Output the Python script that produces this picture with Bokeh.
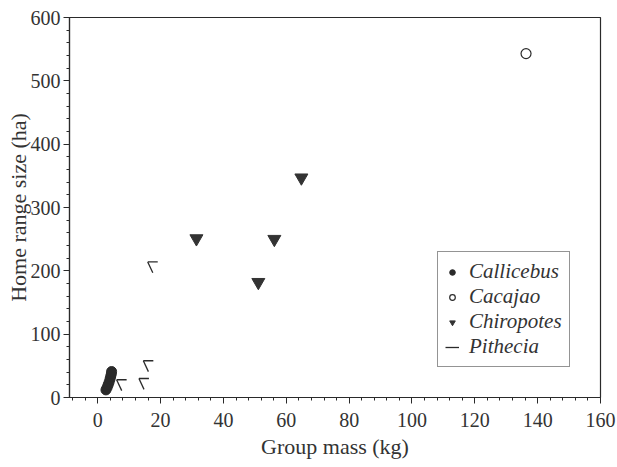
from bokeh.plotting import figure
from bokeh.models import Range1d, SingleIntervalTicker, Legend, LegendItem
from bokeh.embed import file_html
from bokeh.resources import INLINE

callicebus_mass = [2.6, 3.0, 3.3, 3.6, 3.9, 4.1, 4.3, 4.4]
callicebus_range = [12, 16, 20, 24, 29, 33, 37, 41]
cacajao_mass = [136.3]
cacajao_range = [543]
chiropotes_mass = [31.4, 56.2, 51.1, 64.8]
chiropotes_range = [251, 250, 182, 347]
pithecia_mass = [15.9, 14.5, 6.0, 13.1]
pithecia_range = [214, 58, 28, 30]

INK = "#2a2a2a"
TXT = "#333333"
SERIF = "Liberation Serif"

p = figure(width=616, height=466, x_range=Range1d(-9, 160), y_range=Range1d(0, 600),
           output_backend="svg", toolbar_location=None,
           min_border_left=69, min_border_right=16, min_border_top=17, min_border_bottom=69,
           x_axis_label="Group mass (kg)", y_axis_label="Home range size (ha)")
p.xgrid.visible = False
p.ygrid.visible = False
p.outline_line_color = INK
p.outline_line_width = 1.2
p.background_fill_color = "white"
p.border_fill_color = "white"

p.xaxis.ticker = SingleIntervalTicker(interval=20, num_minor_ticks=5)
p.yaxis.ticker = SingleIntervalTicker(interval=100, num_minor_ticks=5)

for ax in (p.xaxis[0], p.yaxis[0]):
    ax.axis_line_color = INK
    ax.axis_line_width = 1.2
    ax.major_tick_line_color = INK
    ax.minor_tick_line_color = INK
    ax.major_tick_out = 6
    ax.major_tick_in = 0
    ax.minor_tick_out = 3
    ax.minor_tick_in = 0
    ax.major_label_text_font = SERIF
    ax.major_label_text_font_size = "20px"
    ax.major_label_text_color = TXT
    ax.axis_label_text_font = SERIF
    ax.axis_label_text_font_style = "normal"
    ax.axis_label_text_font_size = "22px"
    ax.axis_label_text_color = TXT
p.xaxis.major_label_standoff = 9
p.xaxis.axis_label_standoff = 4
p.yaxis.major_label_standoff = 3
p.yaxis.axis_label_standoff = -3

r1 = p.scatter(callicebus_mass, callicebus_range, marker="circle", size=10,
               fill_color=INK, line_color=INK)
r2 = p.scatter(cacajao_mass, cacajao_range, marker="circle", size=10,
               fill_color=None, line_color=INK, line_width=1.2)
r3 = p.scatter(chiropotes_mass, chiropotes_range, marker="inverted_triangle", size=13,
               fill_color="#333333", line_color="#333333")
r4a = p.ray(pithecia_mass, pithecia_range, length=10, length_units="screen",
            angle=0, line_color=INK, line_width=1.3)
r4b = p.ray(pithecia_mass, pithecia_range, length=12, length_units="screen",
            angle=-65, angle_units="deg", line_color=INK, line_width=1.3)

legend = Legend(items=[
    LegendItem(label="Callicebus", renderers=[r1]),
    LegendItem(label="Cacajao", renderers=[r2]),
    LegendItem(label="Chiropotes", renderers=[r3]),
    LegendItem(label="Pithecia", renderers=[r4a]),
], location=(368, 30))
legend.label_text_font = SERIF
legend.label_text_font_style = "italic"
legend.label_text_font_size = "21px"
legend.label_text_color = TXT
legend.border_line_color = INK
legend.border_line_width = 1
legend.glyph_width = 14
legend.glyph_height = 14
legend.label_standoff = 10
legend.spacing = 0
legend.padding = 7
legend.margin = 0
legend.label_height = 24
p.add_layout(legend)

open("out.html", "w").write(file_html(p, INLINE))
